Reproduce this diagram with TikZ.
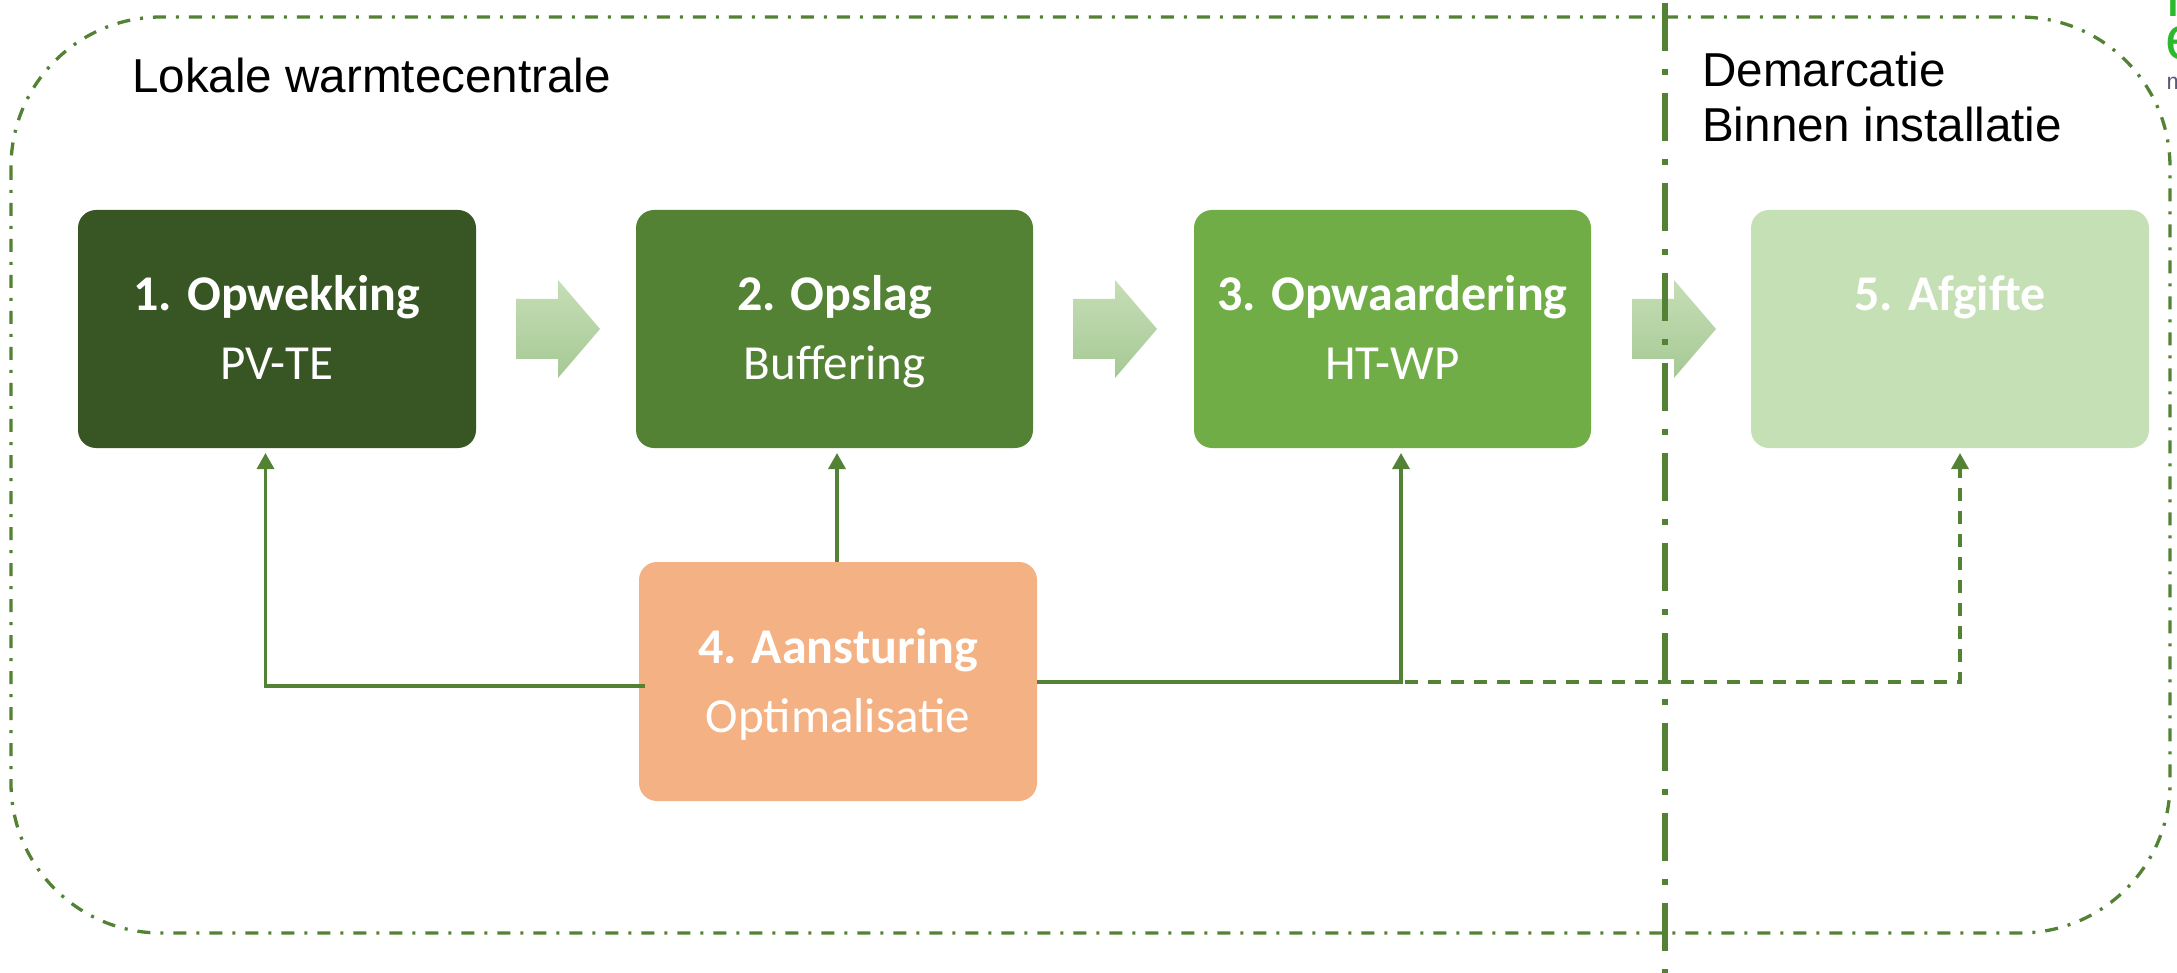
\documentclass[tikz,border=0pt]{standalone}
\usepackage{fontspec}
\setmainfont{Liberation Sans}
\newfontfamily\calfont{Carlito}
\usetikzlibrary{arrows.meta,calc}
\definecolor{gA}{HTML}{375623}
\definecolor{gB}{HTML}{548235}
\definecolor{gC}{HTML}{70AD47}
\definecolor{gD}{HTML}{C5E0B4}
\definecolor{orA}{HTML}{F4B183}
\definecolor{lnC}{HTML}{548235}
\definecolor{arTop}{HTML}{C5DEB6}
\definecolor{arBot}{HTML}{A6C994}
\definecolor{logoG}{HTML}{2DB92D}
\definecolor{logoM}{HTML}{5A5A7A}
\begin{document}
\begin{tikzpicture}[x=1pt,y=-1pt,
  stepbox/.style={draw=none,rounded corners=18pt,minimum width=398pt,minimum height=238pt,inner sep=0pt},
  ttl/.style={anchor=base,inner sep=0pt,text=white,font=\calfont\bfseries\fontsize{50}{60}\selectfont},
  sub/.style={anchor=base,inner sep=0pt,text=white,font=\calfont\fontsize{49}{59}\selectfont},
  lbl/.style={anchor=base west,inner sep=0pt,font=\fontsize{47.6}{56}\selectfont},
  conn/.style={draw=lnC,line width=3.3pt,-{Triangle[width=17pt,length=16pt]}},
  dconn/.style={conn,dash pattern=on 13pt off 10pt},
  outerline/.style={draw=lnC,line width=3.3pt,dash pattern=on 13pt off 10pt on 3pt off 10pt,rounded corners=150pt},
  demline/.style={draw=lnC,line width=5.7pt,dash pattern=on 48pt off 18pt on 6pt off 18pt},
  blockarrow/.style={top color=arTop,bottom color=arBot,draw=none}
]
\useasboundingbox (0,0) rectangle (2177,973);

% outer boundary
\draw[outerline] (11,17) rectangle (2170,933);

% boxes
\node[stepbox,fill=gA] (b1) at (277,329) {};
\node[stepbox,fill=gB,minimum width=397pt] (b2) at (834.5,329) {};
\node[stepbox,fill=gC,minimum width=397pt] (b3) at (1392.5,329) {};
\node[stepbox,fill=gD] (b5) at (1950,329) {};
\node[stepbox,fill=orA,minimum height=239pt] (b4) at (838,681.5) {};

% texts in boxes
\node[ttl] (t1) at ($(b1.center)+(0,-18)$) {1. Opwekking};
\node[sub] (s1) at ($(b1.center)+(0,51)$) {PV-TE};
\node[ttl] (t2) at ($(b2.center)+(0,-18)$) {2. Opslag};
\node[sub] (s2) at ($(b2.center)+(0,51)$) {Buffering};
\node[ttl] (t3) at ($(b3.center)+(0,-18)$) {3. Opwaardering};
\node[sub] (s3) at ($(b3.center)+(0,51)$) {HT-WP};
\node[ttl] (t5) at ($(b5.center)+(0,-18)$) {5. Afgifte};
\node[ttl] (t4) at ($(b4.center)+(0,-18)$) {4. Aansturing};
\node[sub] (s4) at ($(b4.center)+(0,51)$) {Optimalisatie};

% block arrows
\foreach \ax in {516,1073,1632}{
  \shade[blockarrow] (\ax,299) -- ++(42,0) -- ++(0,-19) -- ++(42,49) -- ++(-42,49) -- ++(0,-19) -- ++(-42,0) -- cycle;
}

% demarcation line
\draw[demline] (1665,3) -- (1665,973);

% connectors
\coordinate (c1) at (265.5,453);
\coordinate (c3) at (1401,453);
\coordinate (c5) at (1960,453);
\draw[conn] ($(b4.west)+(6,4.5)$) -| (c1);
\draw[conn] (837,562) -- (837,453);
\draw[dconn] ($(b4.east)+(0,0.5)$) -| (c5);
\draw[conn] ($(b4.east)+(0,0.5)$) -| (c3);

% labels
\node[lbl] (lk) at (132,93) {Lokale warmtecentrale};
\node[lbl] (dm) at (1702,87) {Demarcatie};
\node[lbl] (bi) at (1702,142) {Binnen installatie};

% cut-off logo fragments
\node[anchor=base west,inner sep=0pt,text=logoG,font=\fontsize{62}{62}\selectfont] (lg1) at (2166.5,17) {l};
\node[anchor=base west,inner sep=0pt,text=logoG,font=\fontsize{62}{62}\selectfont] (lg2) at (2165.5,60) {e};
\node[anchor=base west,inner sep=0pt,text=logoM,font=\fontsize{23}{23}\selectfont] (lg3) at (2166.5,90) {m};
\end{tikzpicture}
\end{document}
